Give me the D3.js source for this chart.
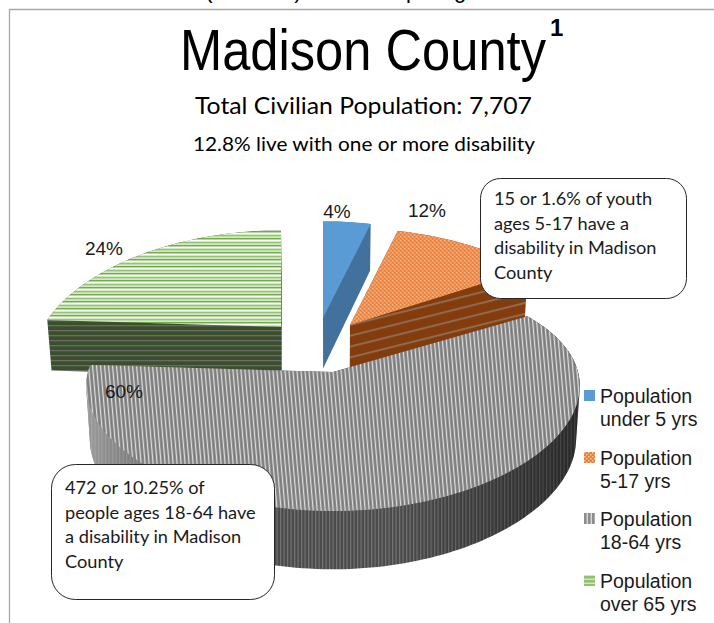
<!DOCTYPE html>
<html><head><meta charset="utf-8">
<script src="https://cdn.jsdelivr.net/npm/d3@7/dist/d3.min.js"></script>
<style>html,body{margin:0;padding:0;background:#fff}svg{display:block}</style>
</head><body><div id="c"></div>
<script>
// ---- data ----
const categories = ["Population under 5 yrs","Population 5-17 yrs","Population 18-64 yrs","Population over 65 yrs"];
const legendLine1 = ["Population","Population","Population","Population"];
const legendLine2 = ["under 5 yrs","5-17 yrs","18-64 yrs","over 65 yrs"];
const values = [4,12,60,24];
const valueLabels = ["4%","12%","60%","24%"];
const calloutTop = ["15 or 1.6% of youth","ages 5-17 have a","disability in Madison","County"];
const calloutBottom = ["472 or 10.25% of","people ages 18-64 have","a disability in Madison","County"];

// ---- layout and style ----
const W=714,H=623;
const tips=[[323,318],[350,325],[333,372],[281,327]];
const radii=[240,240,245,238];
const persp=[0.26,0.26,0.12,0.26];
const labelPos=[[337,218],[427,217],[124,398],[104,255]];
const drawOrder=[3,0,1,2];
const topFill=["#5b9bd5","url(#pOrange)","url(#pGrey)","url(#pGreen)"];
const wallFill=["#41719c","url(#pBrown)","url(#pGreyWall)","url(#pGreenWall)"];
const legendFill=["#5b9bd5","url(#pOrangeL)","url(#pGreyL)","url(#pGreenL)"];
const legendY=[390,452,513,575];

const svg=d3.select("#c").append("svg").attr("width",W).attr("height",H).attr("viewBox",[0,0,W,H]);
const defs=svg.append("defs");
function pattern(id,w,h,bg,shapes,tf){
  const p=defs.append("pattern").attr("id",id).attr("patternUnits","userSpaceOnUse").attr("width",w).attr("height",h);
  if(tf)p.attr("patternTransform",tf);
  p.append("rect").attr("width",w).attr("height",h).attr("fill",bg);
  shapes.forEach(s=>p.append("rect").attr("x",s[0]).attr("y",s[1]).attr("width",s[2]).attr("height",s[3]).attr("fill",s[4]));
}
pattern("pOrange",4,4,"#ee8c4c",[[0,0,1.5,1.5,"#f6b98f"],[2,2,1.5,1.5,"#f4a877"],[2,0,1,1,"#e9782c"],[0,2,1,1,"#e9782c"]]);
pattern("pBrown",40,10.5,"#843c0c",[[0,0,40,2,"#8d6a52"]],"rotate(-14)");
pattern("pGrey",4,12,"#8a8a8a",[[0,0,1.1,12,"#dedede"],[2,0,1,12,"#7a7a7a"]],"skewX(5)");
pattern("pGreyWall",3.5,12,"#4a4a4a",[[0,0,1.2,12,"#757575"]]);
pattern("pGreen",40,7,"#b7d7a1",[[0,0,40,1,"#6fad46"],[0,2,40,1.4,"#ffffff"],[0,4.2,40,1,"#8cc069"],[0,5.7,40,.9,"#e8f3df"]]);
pattern("pGreenWall",40,5,"#3a4f2c",[[0,0,40,1.3,"#6a6a66"]]);
pattern("pOrangeL",4,4,"#ed7d31",[[0,0,1.5,1.5,"#f8c9a8"],[2,2,1.5,1.5,"#f8c9a8"]]);
pattern("pGreyL",4,11,"#8c8c8c",[[2.6,0,1.4,11,"#d9d9d9"]]);
pattern("pGreenL",11,4,"#93c06f",[[0,2.6,11,1.3,"#dcebd0"]]);
const shade=defs.append("linearGradient").attr("id","wallShade").attr("gradientUnits","userSpaceOnUse")
  .attr("x1",90).attr("x2",575).attr("y1",0).attr("y2",0);
[[0,"#bbb",.7],[.28,"#888",.15],[.4,"#000",0],[.64,"#000",0],[1,"#000",.45]].forEach(s=>
  shade.append("stop").attr("offset",s[0]).attr("stop-color",s[1]).attr("stop-opacity",s[2]));

// ---- chart frame ----
svg.append("path").attr("d",`M9.5 ${H}V9.5H${W}`).attr("fill","none").attr("stroke","#a6a6a6").attr("stroke-width",1.3);

// clipped glyph remains of the line above the chart
[["(",209],[")",298],["p",412],["g",460]].forEach(d=>
  svg.append("text").attr("x",d[1]).attr("y",-2).attr("font-family","Liberation Sans").attr("font-size",22).attr("text-anchor","middle").text(d[0]));

// ---- pie ----
const arcs=d3.pie().sort(null)(values);
function project(i,a,r){
  const u=r*Math.sin(a), v=-r*Math.cos(a);
  const s=1/(1-persp[i]*v), sy=1/(1-0.18*v);
  return [tips[i][0]+radii[i]*u*s, tips[i][1]+114*v*sy];
}
function lower(p){
  const d=47+(p[1]-230)*0.04;
  return [330+(p[0]-330)*0.985, p[1]+d];
}
const line=d3.line().curve(d3.curveLinearClosed);
function outline(i){
  const a=arcs[i];
  const n=Math.max(4,Math.round((a.endAngle-a.startAngle)*40));
  const rim=d3.range(n+1).map(k=>project(i,a.startAngle+(a.endAngle-a.startAngle)*k/n,1));
  return [project(i,0,0),...rim];
}
function wallPath(i){
  const top=outline(i), bot=top.map(lower);
  let d=line(d3.polygonArea(bot)<0?bot.slice().reverse():bot);
  top.forEach((p,k)=>{
    const q=top[(k+1)%top.length];
    let quad=[p,q,lower(q),lower(p)];
    if(d3.polygonArea(quad)<0)quad=quad.reverse();
    d+=line(quad);
  });
  return d;
}
const g=svg.append("g");
drawOrder.forEach(i=>{
  g.append("path").attr("d",wallPath(i)).attr("fill",wallFill[i]);
  if(i===2) g.append("path").attr("d",wallPath(i)).attr("fill","url(#wallShade)");
  g.append("path").attr("d",line(outline(i))).attr("fill",topFill[i]);
});

// ---- data labels ----
values.forEach((v,i)=>svg.append("text").attr("x",labelPos[i][0]).attr("y",labelPos[i][1]).attr("text-anchor","middle")
  .attr("font-family","Liberation Sans").attr("font-size",19).attr("fill","#1a1a1a").text(valueLabels[i]));

// ---- titles ----
svg.append("text").attr("x",180).attr("y",70).attr("font-family","Liberation Sans").attr("font-size",58)
  .attr("textLength",366).attr("lengthAdjust","spacingAndGlyphs").text("Madison County");
svg.append("text").attr("x",550).attr("y",36).attr("font-family","Liberation Sans").attr("font-size",24).attr("font-weight","bold").text("1");
svg.append("text").attr("x",195).attr("y",114).attr("font-family","Lato").attr("font-size",23.5)
  .attr("textLength",337).attr("lengthAdjust","spacingAndGlyphs").text("Total Civilian Population: 7,707");
svg.append("text").attr("x",193).attr("y",151).attr("font-family","Lato").attr("font-size",20)
  .attr("textLength",342).attr("lengthAdjust","spacingAndGlyphs").text("12.8% live with one or more disability");

// ---- callouts ----
function callout(x,y,w,h,r,lines,tx,base,step){
  svg.append("rect").attr("x",x).attr("y",y).attr("width",w).attr("height",h).attr("rx",r).attr("fill","#fff").attr("stroke","#262626").attr("stroke-width",1);
  lines.forEach((l,k)=>svg.append("text").attr("x",tx).attr("y",base+k*step).attr("font-family","Lato").attr("font-size",18.2).attr("fill","#1a1a1a").text(l));
}
callout(480.5,178.5,206,120,20,calloutTop,494,205,24.6);
callout(51.5,464.5,223,135,24,calloutBottom,65,494,24.7);

// ---- legend ----
categories.forEach((c,i)=>{
  const y=legendY[i];
  svg.append("rect").attr("x",584).attr("y",y).attr("width",11).attr("height",11).attr("fill",legendFill[i]);
  svg.append("text").attr("x",600).attr("y",y+13).attr("font-family","Liberation Sans").attr("font-size",19.5).attr("fill","#1a1a1a").text(legendLine1[i]);
  svg.append("text").attr("x",600).attr("y",y+35.5).attr("font-family","Liberation Sans").attr("font-size",19.5).attr("fill","#1a1a1a").text(legendLine2[i]);
});
</script></body></html>
